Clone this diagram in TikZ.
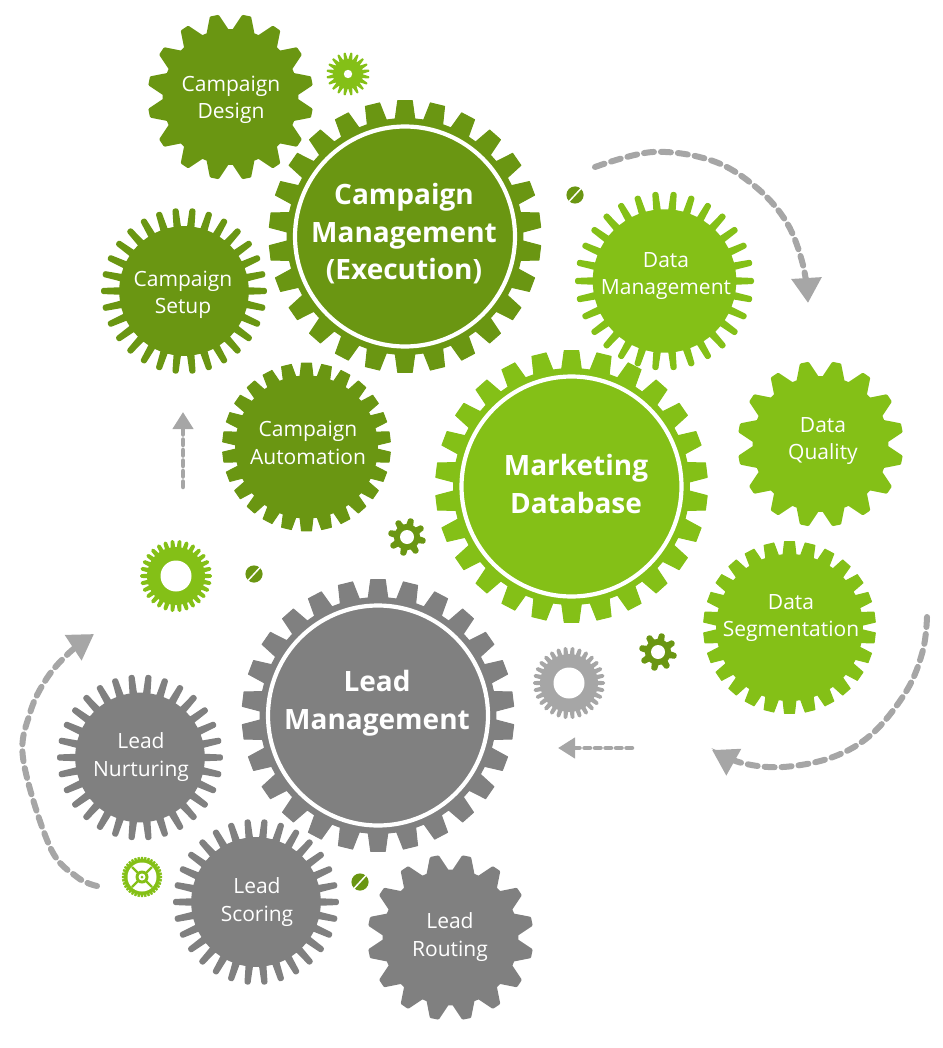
\documentclass[tikz,border=0pt]{standalone}
\usepackage{fontspec}
\setmainfont{Open Sans}
\usetikzlibrary{arrows.meta,calc}
\definecolor{dgreen}{HTML}{6A9612}
\definecolor{lgreen}{HTML}{84C017}
\definecolor{lead}{HTML}{808080}
\definecolor{agray}{HTML}{A6A6A6}
% #1 x, #2 y, #3 tip radius, #4 root radius, #5 teeth, #6 phase, #7 tip half width, #8 root half width, #9 options
\newcommand{\gearfill}[9]{%
  \pgfmathsetmacro{\gst}{360/#5}%
  \pgfmathsetmacro{\gta}{#7/#3*57.296}%
  \pgfmathsetmacro{\gra}{#8/#4*57.296}%
  \pgfmathtruncatemacro{\gn}{#5}%
  \filldraw[line join=round,#9,shift={(#1,#2)}] ({#6-\gra}:#4)
    \foreach \gi [evaluate=\gi as \ga using #6+\gi*\gst] in {1,...,\gn} {
      -- ({\ga-\gst-\gra}:#4) -- ({\ga-\gst-\gta}:#3) -- ({\ga-\gst+\gta}:#3) -- ({\ga-\gst+\gra}:#4)
    } -- cycle;%
}
\newcommand{\biggear}[3]{%
  \gearfill{#1}{#2}{136}{118}{26}{90}{7.3}{9.8}{draw=#3,fill=#3,line width=1pt}%
  \draw[white,line width=4.2pt] (#1,#2) circle[radius=110];%
}
\newcommand{\pointgear}[3]{\gearfill{#1}{#2}{81.5}{66.5}{16}{11.25}{3.5}{10}{draw=#3,fill=#3,line width=3pt}}
\newcommand{\roundgear}[5]{\gearfill{#1}{#2}{#3}{#4}{30}{0}{0.6}{1.3}{draw=#5,fill=#5,line width=5pt}}
\newcommand{\squaregear}[5]{\gearfill{#1}{#2}{#3}{#4}{26}{90}{5}{6.5}{draw=#5,fill=#5,line width=1pt}}
\newcommand{\screw}[2]{%
  \fill[dgreen] (#1,#2) circle[radius=8.6];%
  \draw[white,line width=1.5pt] ($(#1,#2)+(-6,6.5)$) -- ($(#1,#2)+(6,-6.5)$);%
}
\tikzset{
  smalllabel/.style={text=white,align=center,inner sep=0pt,font=\fontsize{21}{27.5}\selectfont},
  biglabel/.style={text=white,align=center,inner sep=0pt,font=\fontsize{28}{37.5}\selectfont\bfseries},
  dashflow/.style={draw=agray,line cap=round},
  headcurve/.style={-{Triangle[length=25pt,width=29pt,fill=agray]}},
  headline/.style={-{Triangle[length=17pt,width=20pt,fill=agray]}},
  flowcurve/.style={dashflow,headcurve,line width=6pt,dash pattern=on 10pt off 7pt},
  flowline/.style={dashflow,headline,line width=4.5pt,dash pattern=on 5.5pt off 5pt},
}
\begin{document}
\begin{tikzpicture}[x=1pt,y=-1pt]
\path[use as bounding box] (0,0) rectangle (942,1048);
% Campaign gears
\pointgear{230.5}{97}{dgreen}
\roundgear{184}{291}{80.5}{62.5}{dgreen}
\squaregear{306.5}{447}{84}{71}{dgreen}
\biggear{405}{236.5}{dgreen}
% Data gears
\roundgear{664.5}{281}{87}{69.5}{lgreen}
\pointgear{820.5}{444}{lgreen}
\squaregear{789.5}{627.5}{86}{73}{lgreen}
\biggear{571.5}{486.5}{lgreen}
% Lead gears
\roundgear{140}{757.5}{80.5}{62.5}{lead}
\roundgear{256}{902}{80.5}{62.5}{lead}
\pointgear{450.5}{937.5}{lead}
\biggear{378}{715.5}{lead}
% small ornaments
\gearfill{348}{74}{21}{14.5}{20}{9}{0.5}{1.5}{draw=lgreen,fill=lgreen,line width=1pt}
\fill[white] (348,74) circle[radius=4.2];
\gearfill{176}{576}{34.5}{27.5}{30}{0}{0.4}{0.8}{draw=lgreen,fill=lgreen,line width=3pt}
\fill[white] (176,576) circle[radius=15.5];
\gearfill{569}{683}{34.5}{27.5}{30}{0}{0.4}{0.8}{draw=agray,fill=agray,line width=3pt}
\fill[white] (569,683) circle[radius=15.5];
\gearfill{407}{537}{17.25}{11.5}{8}{13}{1.2}{1.8}{draw=dgreen,fill=dgreen,line width=3.5pt}
\fill[white] (407,537) circle[radius=7];
\gearfill{658}{652}{17.25}{11.5}{8}{13}{1.2}{1.8}{draw=dgreen,fill=dgreen,line width=3.5pt}
\fill[white] (658,652) circle[radius=7];
\gearfill{142}{877}{20}{17.5}{36}{0}{0.8}{1.2}{draw=lgreen,fill=lgreen,line width=.4pt}
\fill[white] (142,877) circle[radius=14.5];
\draw[lgreen,line width=2.2pt] (132,867) -- (152,887) (152,867) -- (132,887);
\fill[lgreen] (142,877) circle[radius=6.5];
\fill[white] (142,877) circle[radius=3.5];
\fill[lgreen] (142,877) circle[radius=1.5];
\screw{575}{195}
\screw{254}{574}
\screw{360}{882}
% labels
\node[smalllabel] (design) at (231,100) {Campaign\\Design};
\node[smalllabel] (setup) at (183,295) {Campaign\\Setup};
\node[smalllabel] (automation) at (308,443) {Campaign\\Automation};
\node[biglabel] (cm) at (404,234) {Campaign\\Management\\(Execution)};
\node[smalllabel] (datam) at (666,276) {Data\\Management};
\node[smalllabel] (dataq) at (823,441) {Data\\Quality};
\node[smalllabel] (datas) at (791,618) {Data\\Segmentation};
\node[biglabel] (mdb) at (576,484) {Marketing\\Database};
\node[smalllabel] (nurt) at (141,757) {Lead\\Nurturing};
\node[smalllabel] (scor) at (257,902) {Lead\\Scoring};
\node[smalllabel] (rout) at (450,937) {Lead\\Routing};
\node[biglabel] (lm) at (377,703) {Lead\\Management};
% flow arrows
\coordinate (a1s) at (595,167); \coordinate (a1a) at (653,152); \coordinate (a1b) at (713,161);
\coordinate (a1c) at (757,188); \coordinate (a1d) at (787,223); \coordinate (a1e) at (803,265);
\coordinate (a1t) at (808,303);
\draw[flowcurve] plot[smooth,tension=.6] coordinates {(a1s) (a1a) (a1b) (a1c) (a1d) (a1e) (a1t)};
\coordinate (a2s) at (927,617); \coordinate (a2a) at (923,650); \coordinate (a2b) at (907,690);
\coordinate (a2c) at (873,733); \coordinate (a2d) at (833,757); \coordinate (a2e) at (783,767);
\coordinate (a2f) at (742,763); \coordinate (a2t) at (712,750);
\draw[flowcurve] plot[smooth,tension=.6] coordinates {(a2s) (a2a) (a2b) (a2c) (a2d) (a2e) (a2f) (a2t)};
\coordinate (a3s) at (97,886); \coordinate (a3a) at (77,877); \coordinate (a3b) at (50,847);
\coordinate (a3c) at (23.3,760); \coordinate (a3d) at (30,713); \coordinate (a3e) at (47,678);
\coordinate (a3f) at (70,652); \coordinate (a3t) at (94,634);
\draw[flowcurve] plot[smooth,tension=.6] coordinates {(a3s) (a3a) (a3b) (a3c) (a3d) (a3e) (a3f) (a3t)};
\coordinate (a4s) at (183,487); \coordinate (a4t) at (183,412);
\draw[flowline] (a4s) -- (a4t);
\coordinate (a5s) at (632,748); \coordinate (a5t) at (558,748);
\draw[flowline] (a5s) -- (a5t);
\end{tikzpicture}
\end{document}
